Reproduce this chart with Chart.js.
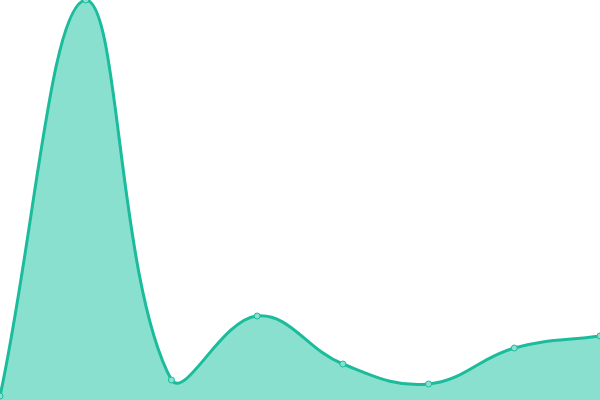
<!DOCTYPE html>
<html>
<head>
<meta charset="utf-8">
<script src="https://cdn.jsdelivr.net/npm/chart.js@4"></script>
<style>
  html, body { margin: 0; padding: 0; background: #fff; }
</style>
</head>
<body>
<canvas id="myChart" width="600" height="400"></canvas>
<script>
const labels = ['1', '2', '3', '4', '5', '6', '7', '8'];
const values = [1, 100, 5, 21, 9, 4, 13, 16];

const data = {
  labels: labels,
  datasets: [{
    data: values,
    fill: true,
    backgroundColor: '#8ae0cf',
    borderColor: '#1abc9c',
    borderWidth: 3,
    tension: 0.4,
    pointRadius: 3,
    pointBackgroundColor: '#8be0cf',
    pointBorderColor: '#1abc9c',
    pointBorderWidth: 1,
    clip: false
  }]
};

const config = {
  type: 'line',
  data: data,
  options: {
    responsive: false,
    animation: false,
    layout: { padding: 0, autoPadding: false },
    plugins: {
      legend: { display: false },
      title: { display: false },
      tooltip: { enabled: false }
    },
    scales: {
      x: { display: false },
      y: { display: false, min: 0, max: 100 }
    }
  }
};

const myChart = new Chart(document.getElementById('myChart'), config);
</script>
</body>
</html>
